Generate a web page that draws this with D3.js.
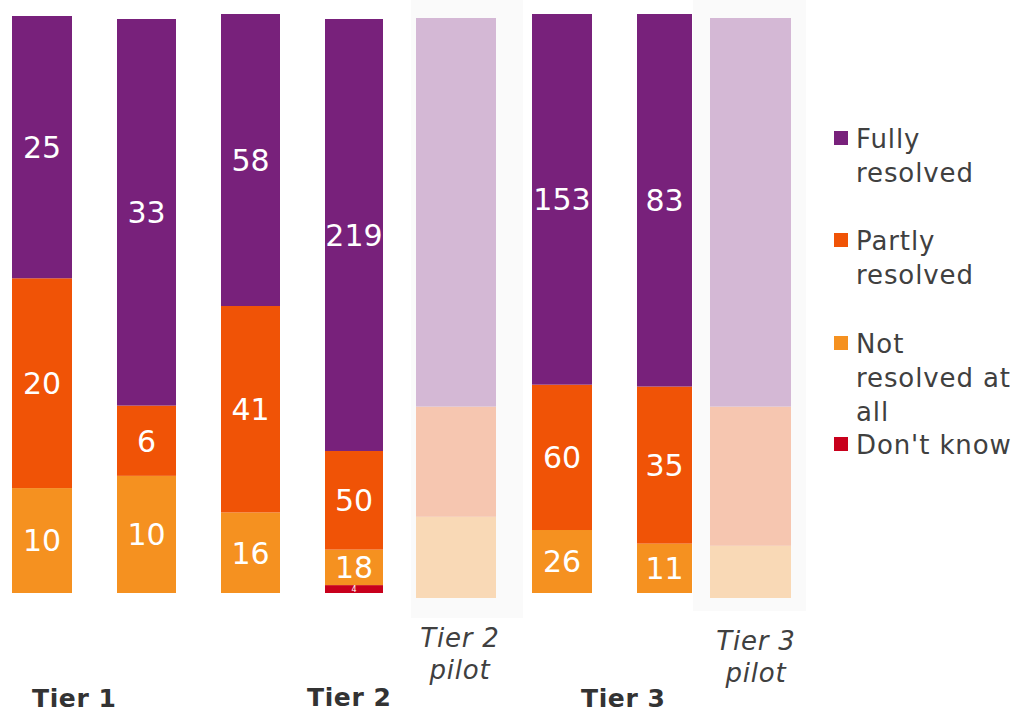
<!DOCTYPE html>
<html lang="en">
<head>
<meta charset="utf-8">
<title>Resolution by tier</title>
<script src="https://d3js.org/d3.v7.min.js"></script>
<style>
  body { margin: 0; background: #fff; }
  text { font-family: "DejaVu Sans", Verdana, sans-serif; }
</style>
</head>
<body>
<script>
// data
var bars = ["t1a", "t1b", "t1c", "t2", "t2pilot", "t3a", "t3b", "t3pilot"];
var pilot = [false, false, false, false, true, false, false, true];
var fully = [25, 33, 58, 219, 67, 153, 83, 67];
var partly = [20, 6, 41, 50, 19, 60, 35, 24];
var notRes = [10, 10, 16, 18, 14, 26, 11, 9];
var dontKnow = [0, 0, 0, 4, 0, 0, 0, 0];
var seriesNames = ["Fully resolved", "Partly resolved", "Not resolved at all", "Don't know"];
var groupLabels = ["Tier 1", "Tier 2", "Tier 3"];
var pilotLabels = [["Tier 2", "pilot"], ["Tier 3", "pilot"]];

// layout (screen capture is a composite, bars do not line up exactly)
var barX = [12, 117, 221, 325, 416, 532, 637, 710];
var barW = [60, 59, 59, 58, 80, 60, 55, 81];
var barTop = [16, 19, 14, 19, 18, 14, 14, 18];
var barBottom = [593, 593, 593, 593, 598, 593, 593, 598];

var colors = ["#78217b", "#f05306", "#f59120", "#c8001c"];
var fadedColors = ["#d4b8d5", "#f6c6b0", "#f9d9b6"];

var table = bars.map(function(b, i) {
  return {bar: b, i: i, full: fully[i], partly: partly[i], not: notRes[i], dk: dontKnow[i]};
});
var keys = ["dk", "not", "partly", "full"];
var colorOf = {full: 0, partly: 1, not: 2, dk: 3};

var stack = d3.stack().keys(keys).offset(d3.stackOffsetExpand);
var series = stack(table);

var svg = d3.select("body").append("svg")
  .attr("width", 1016)
  .attr("height", 713);

// faint panels behind pilot bars
var panels = [[411, 0, 112, 618], [693, 0, 113, 611]];
svg.selectAll("rect.panel").data(panels).enter().append("rect")
  .attr("class", "panel")
  .attr("x", function(d) { return d[0]; })
  .attr("y", function(d) { return d[1]; })
  .attr("width", function(d) { return d[2]; })
  .attr("height", function(d) { return d[3]; })
  .attr("fill", "#fafafa");

var yScales = bars.map(function(b, i) {
  return d3.scaleLinear().domain([0, 1]).range([barBottom[i], barTop[i]]);
});

series.forEach(function(s) {
  var k = s.key;
  var g = svg.append("g").attr("class", "series-" + k);
  g.selectAll("rect").data(s).enter().append("rect")
    .attr("x", function(d, i) { return barX[i]; })
    .attr("width", function(d, i) { return barW[i]; })
    .attr("y", function(d, i) { return yScales[i](d[1]); })
    .attr("height", function(d, i) { return yScales[i](d[0]) - yScales[i](d[1]); })
    .attr("fill", function(d, i) {
      return pilot[i] ? fadedColors[colorOf[k]] : colors[colorOf[k]];
    });

  g.selectAll("text").data(s).enter().append("text")
    .filter(function(d, i) { return !pilot[i] && d.data[k] > 0; })
    .attr("x", function(d) { return barX[d.data.i] + barW[d.data.i] / 2; })
    .attr("y", function(d) {
      var y = yScales[d.data.i];
      return (y(d[0]) + y(d[1])) / 2;
    })
    .attr("dy", "0.36em")
    .attr("text-anchor", "middle")
    .attr("fill", "#fff")
    .style("font-size", function(d) { return k === "dk" ? "8px" : "30px"; })
    .text(function(d) { return d.data[k]; });
});

// group labels
var groupPos = [[32, 707], [307, 706], [581, 707]];
svg.selectAll("text.group").data(groupLabels).enter().append("text")
  .attr("class", "group")
  .attr("x", function(d, i) { return groupPos[i][0]; })
  .attr("y", function(d, i) { return groupPos[i][1]; })
  .attr("fill", "#333")
  .style("font-size", "25px")
  .style("font-weight", "bold")
  .style("letter-spacing", "0.6px")
  .text(function(d) { return d; });

var pilotPos = [[460, 647], [756, 650]];
pilotLabels.forEach(function(lines, j) {
  svg.append("text")
    .attr("x", pilotPos[j][0])
    .attr("y", pilotPos[j][1])
    .attr("text-anchor", "middle")
    .attr("fill", "#404040")
    .style("font-size", "26px")
    .style("font-style", "italic")
    .style("letter-spacing", "0.8px")
    .selectAll("tspan").data(lines).enter().append("tspan")
    .attr("x", pilotPos[j][0])
    .attr("dy", function(d, i) { return i === 0 ? 0 : 32; })
    .text(function(d) { return d; });
});

// legend
var legendLines = [["Fully", "resolved"], ["Partly", "resolved"], ["Not", "resolved at", "all"], ["Don't know"]];
var legendY = [139, 241, 344, 445];
var leg = svg.append("g");
legendLines.forEach(function(lines, j) {
  leg.append("rect")
    .attr("x", 834)
    .attr("y", legendY[j] - 8)
    .attr("width", 14)
    .attr("height", 14)
    .attr("fill", colors[j]);
  leg.append("text")
    .attr("x", 856)
    .attr("y", legendY[j])
    .attr("fill", "#404040")
    .style("font-size", "26px")
    .style("letter-spacing", "0.9px")
    .selectAll("tspan").data(lines).enter().append("tspan")
    .attr("x", 856)
    .attr("dy", function(d, i) { return i === 0 ? "0.36em" : "1.3em"; })
    .text(function(d) { return d; });
});
</script>
</body>
</html>
